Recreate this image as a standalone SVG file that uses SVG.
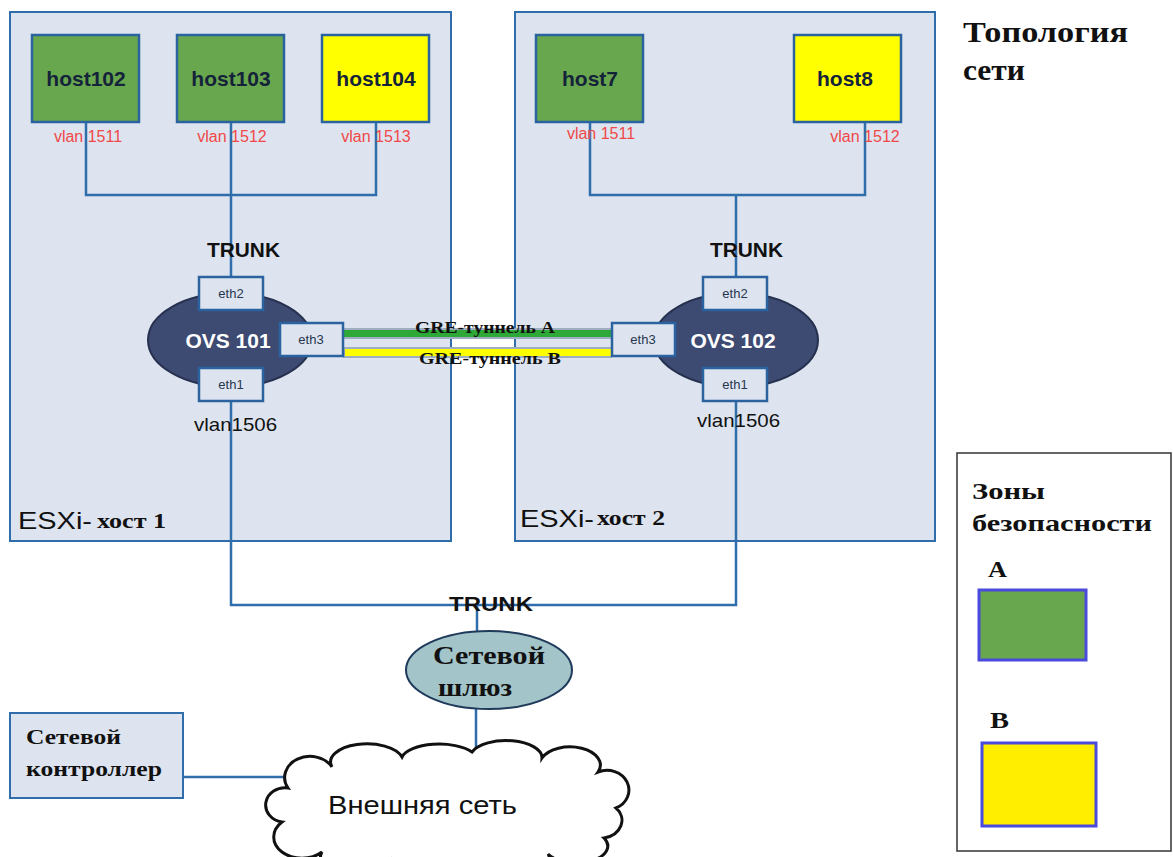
<svg xmlns="http://www.w3.org/2000/svg" width="1173" height="857" viewBox="0 0 1173 857">
<style>
.esx{fill:#dde4ef;stroke:#2f6eaa;stroke-width:2}
.host{stroke:#2a63a0;stroke-width:2.5}
.g{fill:#69a74e}
.y{fill:#ffff00}
.ht{font-family:"Liberation Sans",Arial,sans-serif;font-weight:bold;font-size:21px;fill:#14233a;text-anchor:middle}
.vl{font-family:"Liberation Sans",Arial,sans-serif;font-size:16px;fill:#f04848;text-anchor:middle}
.ln{stroke:#2f6eaa;stroke-width:2.5;fill:none}
.port{fill:#dde4ef;stroke:#2a63a0;stroke-width:2.5}
.pt{font-family:"Liberation Sans",Arial,sans-serif;font-size:13px;fill:#26364e;text-anchor:middle}
.ovs{fill:#3d4a72;stroke:#26304f;stroke-width:2}
.ovt{font-family:"Liberation Sans",Arial,sans-serif;font-weight:bold;font-size:21px;fill:#ffffff;text-anchor:middle}
.tr{font-family:"Liberation Sans",Arial,sans-serif;font-weight:bold;font-size:20px;fill:#111}
.sa{font-family:"Liberation Sans",Arial,sans-serif;fill:#111}
.tm{font-family:"Liberation Serif","Times New Roman",serif;font-weight:bold;fill:#111}
</style>
<rect width="1173" height="857" fill="#ffffff"/>

<g id="esxi1"><rect class="esx" x="10" y="12" width="441" height="529"/>
<text class="sa" x="18" y="529" font-size="24" textLength="74" lengthAdjust="spacingAndGlyphs">ESXi-</text>
<text class="tm" x="97" y="528" font-size="21" textLength="69" lengthAdjust="spacingAndGlyphs">хост 1</text></g>
<g id="esxi2"><rect class="esx" x="515" y="12" width="420" height="529"/>
<text class="sa" x="520" y="527" font-size="24" textLength="74" lengthAdjust="spacingAndGlyphs">ESXi-</text>
<text class="tm" x="597" y="525" font-size="21" textLength="68" lengthAdjust="spacingAndGlyphs">хост 2</text></g>

<g id="connectors">
<path class="ln" d="M86 122V195H376V122M231 122V277"/>
<path class="ln" d="M590 122V195H865V122M736 195V277"/>
<path class="ln" d="M231 401V605H736V401"/>
<path class="ln" d="M477 605V632M476 708V752M183 777H290"/>
<rect x="343" y="328" width="269" height="11" fill="#9eaec0"/>
<rect x="343" y="330" width="269" height="7" fill="#2ea836"/>
<rect x="343" y="347" width="269" height="11" fill="#9eaec0"/>
<rect x="345" y="349" width="267" height="7" fill="#ffff00"/>
<text class="tm" x="415" y="333" font-size="17" textLength="140" lengthAdjust="spacingAndGlyphs">GRE-туннель A</text>
<text class="tm" x="419" y="364" font-size="17" textLength="142" lengthAdjust="spacingAndGlyphs">GRE-туннель B</text>
<text class="tr" x="207" y="257" textLength="73" lengthAdjust="spacingAndGlyphs">TRUNK</text>
<text class="tr" x="710" y="257" textLength="73" lengthAdjust="spacingAndGlyphs">TRUNK</text>
<text class="tr" x="449" y="611" textLength="84" lengthAdjust="spacingAndGlyphs">TRUNK</text>
</g>

<g id="host102"><rect class="host g" x="32" y="35" width="107" height="87"/><text class="ht" x="86" y="86">host102</text><text class="vl" x="88" y="142">vlan 1511</text></g>
<g id="host103"><rect class="host g" x="177" y="35" width="107" height="87"/><text class="ht" x="231" y="86">host103</text><text class="vl" x="232" y="142">vlan 1512</text></g>
<g id="host104"><rect class="host y" x="322" y="35" width="107" height="87"/><text class="ht" x="376" y="86">host104</text><text class="vl" x="376" y="142">vlan 1513</text></g>
<g id="host7"><rect class="host g" x="536" y="35" width="107" height="87"/><text class="ht" x="590" y="86">host7</text><text class="vl" x="601" y="139">vlan 1511</text></g>
<g id="host8"><rect class="host y" x="794" y="35" width="107" height="87"/><text class="ht" x="845" y="86">host8</text><text class="vl" x="865" y="142">vlan 1512</text></g>

<g id="ovs101">
<ellipse class="ovs" cx="230" cy="340" rx="82" ry="47"/>
<text class="ovt" x="228" y="348">OVS 101</text>
<rect class="port" x="199" y="277" width="64" height="33"/><text class="pt" x="231" y="298">eth2</text>
<rect class="port" x="280" y="323" width="63" height="33"/><text class="pt" x="311" y="344">eth3</text>
<rect class="port" x="199" y="368" width="64" height="33"/><text class="pt" x="231" y="389">eth1</text>
<text class="sa" x="194" y="431" font-size="19" fill="#222" textLength="83" lengthAdjust="spacingAndGlyphs">vlan1506</text>
</g>
<g id="ovs102">
<ellipse class="ovs" cx="736" cy="340" rx="82" ry="47"/>
<text class="ovt" x="733" y="348">OVS 102</text>
<rect class="port" x="703" y="277" width="64" height="33"/><text class="pt" x="735" y="298">eth2</text>
<rect class="port" x="612" y="323" width="63" height="33"/><text class="pt" x="643" y="344">eth3</text>
<rect class="port" x="703" y="368" width="64" height="33"/><text class="pt" x="735" y="389">eth1</text>
<text class="sa" x="697" y="427" font-size="19" fill="#222" textLength="83" lengthAdjust="spacingAndGlyphs">vlan1506</text>
</g>

<g id="gateway">
<ellipse cx="489" cy="670" rx="83" ry="39" fill="#a3c4c9" stroke="#1f3a5a" stroke-width="2"/>
<text class="tm" x="433" y="664" font-size="25" textLength="112" lengthAdjust="spacingAndGlyphs">Сетевой</text>
<text class="tm" x="438" y="696" font-size="25" textLength="74" lengthAdjust="spacingAndGlyphs">шлюз</text>
</g>

<g id="cloud">
<path d="M288 788A24 20 0 0 1 332 767A36 18 0 0 1 402 757A38 16 0 0 1 472 752A36 17 0 0 1 542 758A30 18 0 0 1 598 772A20 18 0 0 1 616 808A22 18 0 0 1 604 838A30 16 0 0 1 548 854A40 16 0 0 1 470 862A40 16 0 0 1 390 862A32 16 0 0 1 322 852A24 18 0 0 1 282 822A18 16 0 0 1 288 788Z" fill="#ffffff" stroke="#111" stroke-width="3"/>
<text class="sa" x="328" y="814" font-size="26" textLength="189" lengthAdjust="spacingAndGlyphs">Внешняя сеть</text>
</g>

<g id="controller">
<rect x="10" y="713" width="173" height="85" fill="#dde4ef" stroke="#2f6eaa" stroke-width="2"/>
<text class="tm" x="26" y="744" font-size="22" textLength="95" lengthAdjust="spacingAndGlyphs">Сетевой</text>
<text class="tm" x="26" y="776" font-size="22" textLength="136" lengthAdjust="spacingAndGlyphs">контроллер</text>
</g>

<g id="title"><text class="tm" x="963" y="42" font-size="30" textLength="165" lengthAdjust="spacingAndGlyphs">Топология</text><text class="tm" x="963" y="80" font-size="30" textLength="62" lengthAdjust="spacingAndGlyphs">сети</text></g>

<g id="legend">
<rect x="957" y="453" width="214" height="398" fill="#ffffff" stroke="#333" stroke-width="1.5"/>
<text class="tm" x="972" y="499" font-size="24" textLength="73" lengthAdjust="spacingAndGlyphs">Зоны</text>
<text class="tm" x="972" y="531" font-size="24" textLength="180" lengthAdjust="spacingAndGlyphs">безопасности</text>
<text class="tm" x="988" y="577" font-size="24" textLength="19" lengthAdjust="spacingAndGlyphs">A</text>
<rect x="979" y="590" width="107" height="70" fill="#69a74e" stroke="#4a4adc" stroke-width="3"/>
<text class="tm" x="990" y="728" font-size="24" textLength="19" lengthAdjust="spacingAndGlyphs">B</text>
<rect x="982" y="743" width="114" height="83" fill="#ffee00" stroke="#4a4adc" stroke-width="3"/>
</g>
</svg>
